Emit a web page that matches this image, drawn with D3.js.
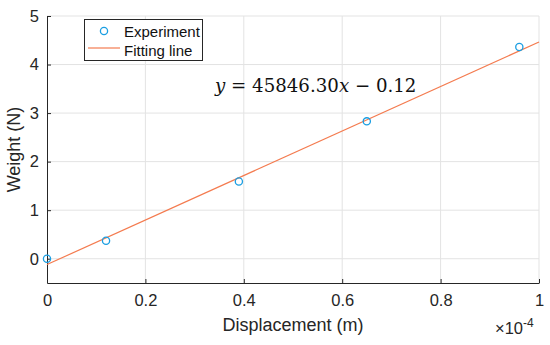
<!DOCTYPE html>
<html>
<head>
<meta charset="utf-8">
<script src="https://cdn.jsdelivr.net/npm/d3@7"></script>
<style>
  body { margin: 0; background: #fff; }
  svg { display: block; font-family: Arial, "Liberation Sans", sans-serif; }
</style>
</head>
<body>
<div id="chart"></div>
<script>
// experiment data (x in units of 1e-4 m, weight in N)
const dispValues = [0, 0.12, 0.39, 0.65, 0.96];
const weightValues = [0, 0.37, 1.59, 2.83, 4.36];
const xTicks = [0, 0.2, 0.4, 0.6, 0.8, 1];
const yTicks = [0, 1, 2, 3, 4, 5];
const slope = 45846.30;   // N/m
const intercept = -0.12;
const fitRange = [0, 1];

const width = 550, height = 345;
const margin = { top: 16, right: 11, bottom: 62, left: 47 };

const svg = d3.select("#chart").append("svg")
    .attr("width", width)
    .attr("height", height);

const x = d3.scaleLinear().domain([0, 1]).range([margin.left, width - margin.right]);
const y = d3.scaleLinear().domain([-0.5, 5]).range([height - margin.bottom, margin.top]);

// grid
const grid = svg.append("g").attr("stroke", "#e3e3e3").attr("stroke-width", 1);
grid.selectAll(".gx").data(xTicks.slice(1)).join("line")
    .attr("x1", d => x(d)).attr("x2", d => x(d))
    .attr("y1", y(-0.5)).attr("y2", y(5));
grid.selectAll(".gy").data(yTicks).join("line")
    .attr("x1", x(0)).attr("x2", x(1))
    .attr("y1", d => y(d)).attr("y2", d => y(d));

// axes
const xAxis = svg.append("g")
    .attr("transform", `translate(0,${y(-0.5)})`)
    .call(d3.axisBottom(x).tickValues(xTicks).tickFormat(d3.format("~g")).tickSizeInner(-4).tickSizeOuter(0).tickPadding(11));
const yAxis = svg.append("g")
    .attr("transform", `translate(${x(0)},0)`)
    .call(d3.axisLeft(y).tickValues(yTicks).tickFormat(d3.format("d")).tickSizeInner(-4).tickSizeOuter(0).tickPadding(8));
[xAxis, yAxis].forEach(a => {
    a.select(".domain").attr("stroke", "#262626");
    a.selectAll(".tick line").attr("stroke", "#262626");
    a.selectAll(".tick text").attr("fill", "#262626").style("font-size", "16.5px").style("font-family", "Arial, 'Liberation Sans', sans-serif");
});

// fit line
svg.append("line")
    .attr("x1", x(fitRange[0])).attr("y1", y(slope * fitRange[0] * 1e-4 + intercept))
    .attr("x2", x(fitRange[1])).attr("y2", y(slope * fitRange[1] * 1e-4 + intercept))
    .attr("stroke", "#f47b4f").attr("stroke-width", 1.2);

// markers
svg.append("g").selectAll("circle")
    .data(dispValues.map((d, i) => [d, weightValues[i]]))
    .join("circle")
    .attr("cx", d => x(d[0])).attr("cy", d => y(d[1]))
    .attr("r", 3.6)
    .attr("fill", "none")
    .attr("stroke", "#1a9ee2")
    .attr("stroke-width", 1.3);

// axis labels
svg.append("text")
    .attr("x", x(0.5)).attr("y", 331)
    .attr("text-anchor", "middle")
    .attr("fill", "#262626").style("font-size", "18px")
    .text("Displacement (m)");
svg.append("text")
    .attr("transform", `translate(20,${y(2.25)}) rotate(-90)`)
    .attr("text-anchor", "middle")
    .attr("fill", "#262626").style("font-size", "18px")
    .text("Weight (N)");

// exponent
const ex = svg.append("text").attr("x", 495).attr("y", 334).attr("fill", "#262626").style("font-size", "16.5px");
ex.append("tspan").text("\u00d710");
ex.append("tspan").attr("dy", -7).style("font-size", "12px").text("-4");

// equation
const eq = svg.append("text")
    .attr("x", 215).attr("y", 92)
    .attr("fill", "#111")
    .style("font-family", "'DejaVu Serif', 'Liberation Serif', serif")
    .style("font-size", "18.2px");
eq.append("tspan").style("font-style", "italic").text("y");
eq.append("tspan").text(" = " + slope.toFixed(2));
eq.append("tspan").style("font-style", "italic").text("x");
eq.append("tspan").text(" \u2212 " + Math.abs(intercept).toFixed(2));

// legend
const lg = svg.append("g");
lg.append("rect")
    .attr("x", 84.5).attr("y", 19.5).attr("width", 118).attr("height", 41)
    .attr("fill", "#fff").attr("stroke", "#262626").attr("stroke-width", 1);
lg.append("circle").attr("cx", 104).attr("cy", 31).attr("r", 3.6)
    .attr("fill", "none").attr("stroke", "#1a9ee2").attr("stroke-width", 1.3);
lg.append("line").attr("x1", 88).attr("x2", 120).attr("y1", 48).attr("y2", 48)
    .attr("stroke", "#f47b4f").attr("stroke-width", 1.2);
lg.append("text").attr("x", 124).attr("y", 36.5).attr("fill", "#111").style("font-size", "15px").text("Experiment");
lg.append("text").attr("x", 124).attr("y", 55.5).attr("fill", "#111").style("font-size", "15px").text("Fitting line");
</script>
</body>
</html>
